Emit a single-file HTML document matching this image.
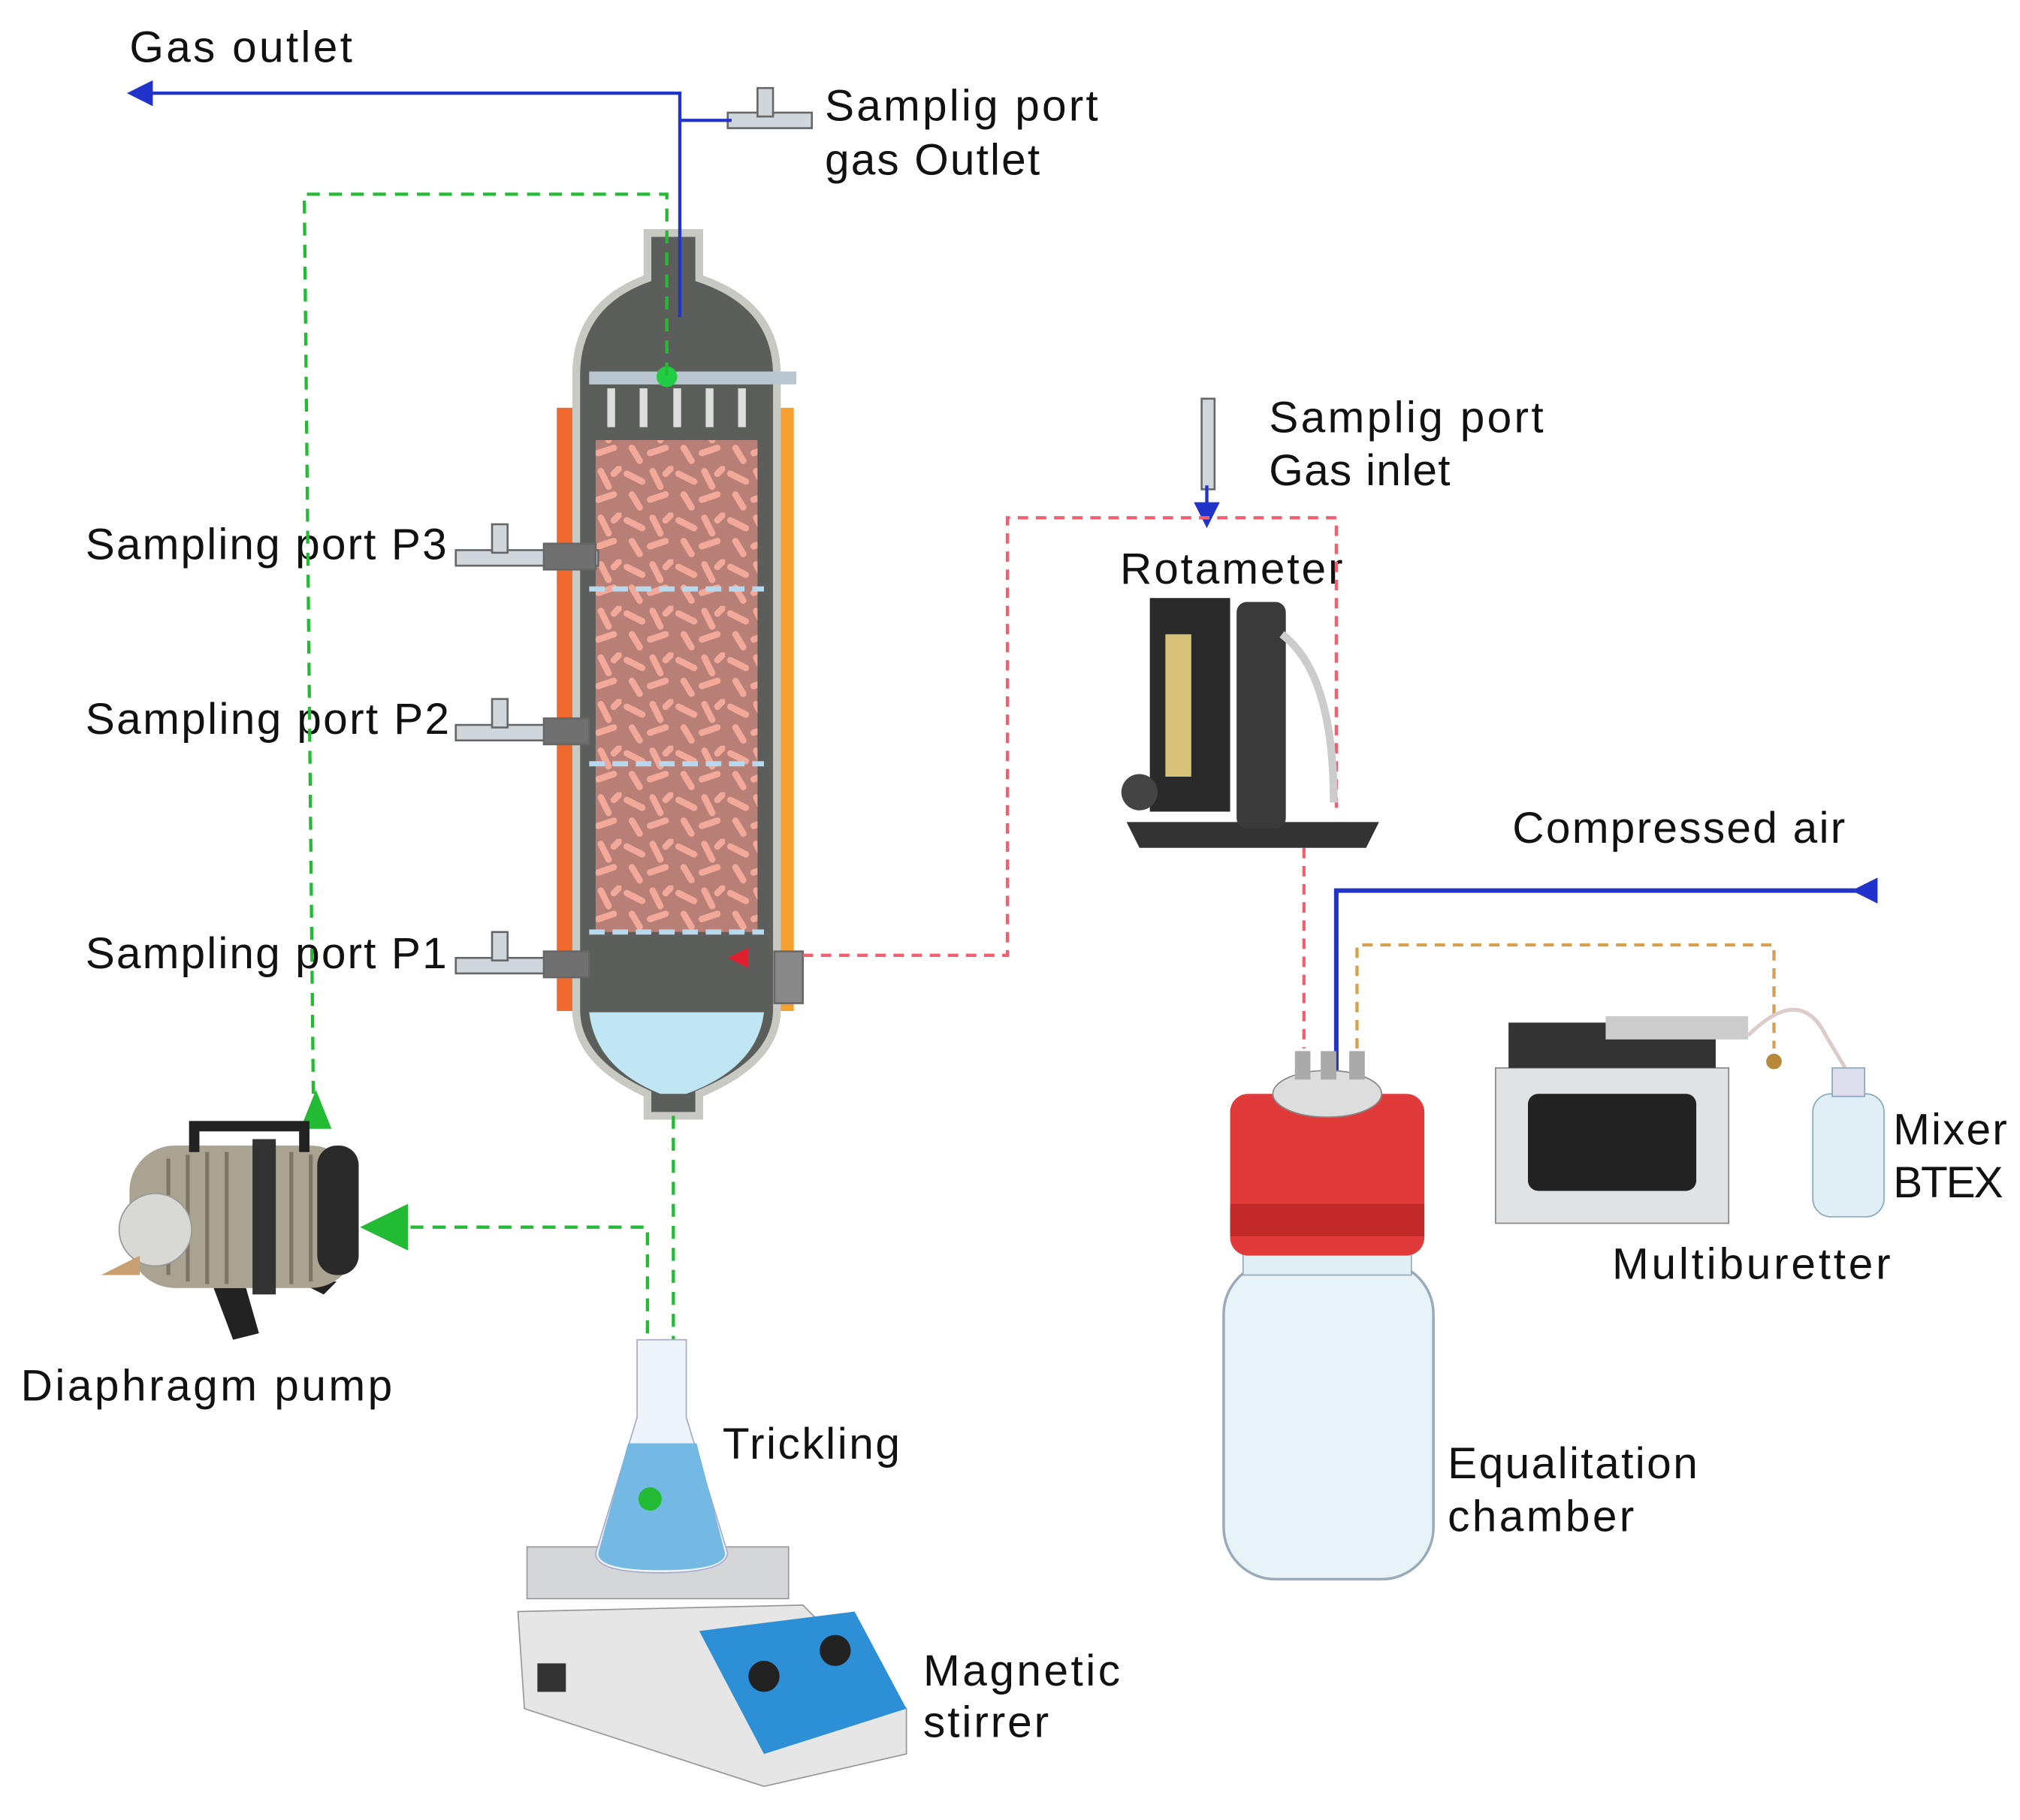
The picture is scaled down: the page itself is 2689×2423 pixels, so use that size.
<!DOCTYPE html>
<html><head><meta charset="utf-8"><style>html,body{margin:0;padding:0;background:#fff}svg{display:block}text{font-family:"Liberation Sans",sans-serif;fill:#111}</style></head>
<body>
<svg width="2689" height="2423" viewBox="0 0 1560 1406" preserveAspectRatio="none" xmlns="http://www.w3.org/2000/svg">
<defs>
<pattern id="pills" width="40" height="36" patternUnits="userSpaceOnUse">
<rect width="40" height="36" fill="#b77f76"/>
<g stroke="#f2a99a" stroke-width="5" stroke-linecap="round">
<line x1="4" y1="6" x2="16" y2="12"/><line x1="24" y1="4" x2="30" y2="16"/><line x1="8" y1="22" x2="14" y2="32"/><line x1="22" y1="26" x2="34" y2="22"/><line x1="34" y1="6" x2="38" y2="2"/>
</g></pattern>
<marker id="ab" markerWidth="8" markerHeight="8" refX="4" refY="4" orient="auto"><path d="M0,0L8,4L0,8z" fill="#2233cc"/></marker>
</defs>
<rect width="1560" height="1406" fill="#fff"/>
<g font-size="34" lengthAdjust="spacingAndGlyphs">
<text x="100" y="48" textLength="172">Gas outlet</text>
<text x="637" y="93" textLength="211">Samplig port</text>
<text x="637" y="135" textLength="166">gas Outlet</text>
<text x="980" y="334" textLength="212">Samplig port</text>
<text x="980" y="375" textLength="140">Gas inlet</text>
<text x="865" y="451" textLength="172">Rotameter</text>
<text x="66" y="432" textLength="279">Sampling port P3</text>
<text x="66" y="567" textLength="281">Sampling port P2</text>
<text x="66" y="748" textLength="279">Sampling port P1</text>
<text x="1168" y="651" textLength="257">Compressed air</text>
<text x="1462" y="884" textLength="88">Mixer</text>
<text x="1462" y="925" textLength="85">BTEX</text>
<text x="1245" y="988" textLength="215">Multiburetter</text>
<text x="16" y="1082" textLength="287">Diaphragm pump</text>
<text x="558" y="1127" textLength="137">Trickling</text>
<text x="1118" y="1142" textLength="193">Equalitation</text>
<text x="1118" y="1183" textLength="144">chamber</text>
<text x="713" y="1302" textLength="152">Magnetic</text>
<text x="713" y="1342" textLength="97">stirrer</text>
</g>
<rect x="430" y="315" width="16" height="466" fill="#f06a30"/>
<rect x="598" y="315" width="15" height="466" fill="#f5a030"/>
<path d="M500,180 L540,180 L540,215 Q600,235 600,290 L600,780 Q600,820 540,845 L540,862 L500,862 L500,845 Q445,820 445,780 L445,290 Q445,235 500,215Z" fill="#5b5e5a" stroke="#c9c9c4" stroke-width="6"/>
<rect x="460" y="340" width="125" height="380" fill="url(#pills)"/>
<g stroke="#b8d8ee" stroke-width="4" stroke-dasharray="12,6"><line x1="455" y1="455" x2="590" y2="455"/><line x1="455" y1="590" x2="590" y2="590"/><line x1="455" y1="720" x2="590" y2="720"/></g>
<rect x="455" y="287" width="160" height="10" fill="#b9c6cf"/>
<g fill="#ddd"><rect x="469" y="300" width="6" height="30"/><rect x="494" y="300" width="6" height="30"/><rect x="520" y="300" width="6" height="30"/><rect x="545" y="300" width="6" height="30"/><rect x="570" y="300" width="6" height="30"/></g>
<path d="M455,782 L590,782 Q585,825 530,845 L510,845 Q460,825 455,782Z" fill="#bfe6f2"/>
<circle cx="515" cy="291" r="8" fill="#22cc44"/>
<g fill="#cfd6dc" stroke="#666" stroke-width="1.5">
<rect x="352" y="425" width="110" height="12"/><rect x="420" y="420" width="40" height="20" fill="#707070"/><rect x="380" y="405" width="12" height="22"/>
<rect x="352" y="560" width="100" height="12"/><rect x="420" y="555" width="35" height="20" fill="#707070"/><rect x="380" y="540" width="12" height="22"/>
<rect x="352" y="740" width="100" height="12"/><rect x="420" y="735" width="35" height="20" fill="#707070"/><rect x="380" y="720" width="12" height="22"/>
<rect x="562" y="87" width="65" height="12"/><rect x="585" y="68" width="12" height="22"/>
<rect x="928" y="308" width="10" height="70"/>
<rect x="598" y="735" width="22" height="40" fill="#888"/>
</g>
<g stroke="#2233cc" stroke-width="2.5" fill="none">
<polyline points="525,245 525,72 108,72" marker-end="url(#ab)"/>
<line x1="525" y1="93" x2="565" y2="93"/>
<line x1="932" y1="375" x2="932" y2="398" marker-end="url(#ab)"/>
</g>
<g stroke="#2233cc" stroke-width="3.5" fill="none"><polyline points="1440,688 1032,688 1032,1000"/></g>
<path d="M1430,688 L1450,678 L1450,698Z" fill="#2233cc"/>
<path d="M1022,990 L1042,990 L1032,1012Z" fill="#2233cc"/>
<g stroke="#22bb33" stroke-width="2.5" fill="none" stroke-dasharray="10,7">
<polyline points="515,290 515,150 235,150 242,850"/>
<polyline points="300,948 500,948 500,1045"/>
<line x1="520" y1="862" x2="520" y2="1055"/>
</g>
<path d="M232,872 L256,872 L244,842Z" fill="#22bb33"/>
<path d="M278,948 L315,930 L315,966Z" fill="#22bb33"/>
<path d="M512,1050 L528,1050 L520,1066Z" fill="#22bb33"/>
<g stroke="#f26070" stroke-width="2.5" fill="none" stroke-dasharray="8,6">
<polyline points="620,738 778,738 778,400 1032,400 1032,630"/>
<line x1="1007" y1="655" x2="1007" y2="810"/>
</g>
<path d="M562,740 L578,732 L578,748Z" fill="#e02030"/>
<g stroke="#d6a050" stroke-width="2.5" fill="none" stroke-dasharray="8,6">
<polyline points="1048,810 1048,730 1370,730 1370,810"/>
<line x1="1048" y1="980" x2="1048" y2="1170"/>
</g>
<path d="M1041,1168 L1055,1168 L1048,1184Z" fill="#d6a050"/>
<path d="M870,635 L1065,635 L1055,655 L880,655Z" fill="#333"/>
<rect x="955" y="465" width="38" height="175" rx="8" fill="#3a3a3a"/>
<rect x="888" y="462" width="62" height="165" fill="#2a2a2a"/>
<rect x="900" y="490" width="20" height="110" fill="#d8c27a"/>
<circle cx="880" cy="612" r="14" fill="#444"/>
<path d="M990,490 Q1030,520 1030,620" stroke="#ccc" stroke-width="6" fill="none"/>
<rect x="945" y="975" width="162" height="245" rx="40" fill="#e8f3f8" stroke="#9ab" stroke-width="2"/>
<rect x="960" y="955" width="130" height="30" fill="#dfeef3" stroke="#9ab"/>
<rect x="950" y="845" width="150" height="125" rx="14" fill="#e03a3a"/>
<rect x="950" y="930" width="150" height="25" fill="#c22a2a"/>
<ellipse cx="1025" cy="845" rx="42" ry="18" fill="#ddd" stroke="#888"/>
<rect x="1000" y="812" width="12" height="22" fill="#aaa"/><rect x="1020" y="812" width="12" height="22" fill="#aaa"/><rect x="1042" y="812" width="12" height="22" fill="#aaa"/>
<rect x="1155" y="825" width="180" height="120" fill="#e0e2e4" stroke="#888"/>
<rect x="1180" y="845" width="130" height="75" rx="8" fill="#222"/>
<rect x="1165" y="790" width="160" height="35" fill="#333"/>
<rect x="1240" y="785" width="110" height="18" fill="#ccc"/>
<path d="M1350,800 Q1390,760 1410,800 L1425,825" stroke="#dcc" stroke-width="3" fill="none"/>
<circle cx="1370" cy="820" r="6" fill="#b8893a"/>
<rect x="1400" y="845" width="55" height="95" rx="14" fill="#e0eef5" stroke="#8ab"/>
<rect x="1415" y="825" width="25" height="22" fill="#dde" stroke="#8ab"/>
<!-- pump -->
<path d="M165,995 L180,1035 L200,1030 L190,995Z" fill="#222"/>
<path d="M230,990 L250,1000 L260,990Z" fill="#222"/>
<rect x="100" y="885" width="175" height="110" rx="35" fill="#aaa392"/>
<g stroke="#7d7565" stroke-width="3"><line x1="130" y1="895" x2="130" y2="985"/><line x1="145" y1="892" x2="145" y2="990"/><line x1="160" y1="890" x2="160" y2="992"/><line x1="175" y1="890" x2="175" y2="992"/><line x1="225" y1="890" x2="225" y2="992"/><line x1="240" y1="892" x2="240" y2="990"/></g>
<path d="M150,890 L150,870 L235,870 L235,890" stroke="#222" stroke-width="8" fill="none"/>
<rect x="195" y="880" width="18" height="120" fill="#333"/>
<rect x="245" y="885" width="32" height="100" rx="15" fill="#2a2a2a"/>
<circle cx="120" cy="950" r="28" fill="#d8d8d5" stroke="#999"/>
<path d="M78,985 L108,970 L108,985Z" fill="#c9a070"/>
<path d="M400,1245 L620,1240 L700,1320 L700,1355 L590,1380 L405,1320Z" fill="#e6e6e6" stroke="#999"/>
<path d="M540,1260 L660,1245 L700,1320 L590,1355Z" fill="#2d8fd6"/>
<circle cx="590" cy="1295" r="12" fill="#222"/><circle cx="645" cy="1275" r="12" fill="#222"/>
<rect x="415" y="1285" width="22" height="22" fill="#333"/>
<rect x="407" y="1195" width="202" height="40" fill="#d5d6d8" stroke="#999"/>
<path d="M492,1035 L530,1035 L530,1095 L562,1200 Q560,1215 510,1215 Q460,1215 460,1200 L492,1095Z" fill="#eef5fa" stroke="#aac"/>
<path d="M485,1115 L538,1115 L560,1200 Q560,1213 510,1213 Q462,1213 462,1200Z" fill="#74b9e4"/>
<circle cx="502" cy="1158" r="9" fill="#22bb33"/>
</svg>
</body></html>
